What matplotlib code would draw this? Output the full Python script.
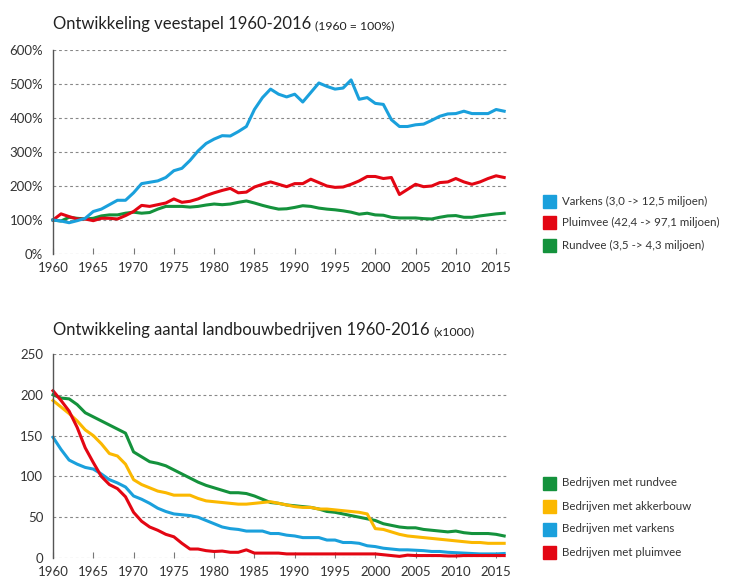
import matplotlib
matplotlib.use('Agg')
import matplotlib.pyplot as plt
from matplotlib.patches import Rectangle

plt.rcParams['font.family'] = ['Lato', 'DejaVu Sans']

years = list(range(1960, 2017))

# veestapel, index 1960 = 100%
varkens = [100, 97, 92, 98, 105, 125, 132, 145, 158, 158,
           180, 207, 211, 215, 225, 245, 252, 275, 303, 325,
           338, 348, 347, 360, 375, 425, 460, 485, 470, 462,
           470, 447, 475, 503, 493, 485, 488, 512, 455, 460,
           443, 440, 395, 375, 375, 380, 382, 393, 405, 412,
           413, 420, 413, 413, 413, 425, 420]
pluimvee = [100, 118, 110, 103, 103, 98, 105, 105, 103, 113,
            125, 143, 140, 145, 150, 162, 152, 155, 162, 172,
            180, 187, 193, 180, 182, 197, 205, 212, 205, 198,
            207, 207, 220, 210, 200, 196, 197, 205, 215, 228,
            228, 222, 225, 175, 190, 205, 198, 200, 210, 212,
            222, 212, 205, 212, 222, 230, 225]
rundvee = [100, 97, 108, 105, 103, 105, 112, 115, 115, 120,
           123, 120, 122, 132, 140, 140, 140, 138, 140, 144,
           147, 145, 147, 152, 156, 150, 143, 137, 132, 133,
           137, 142, 140, 135, 132, 130, 127, 123, 117, 120,
           115, 114, 108, 106, 106, 106, 104, 103, 108, 112,
           113, 108, 108, 112, 115, 118, 120]

# aantal bedrijven (x1000)
b_rundvee = [200, 196, 195, 188, 178, 173, 168, 163, 158, 153,
             130, 124, 118, 116, 113, 108, 103, 98, 93, 89,
             86, 83, 80, 80, 79, 76, 72, 68, 67, 65,
             64, 63, 62, 60, 57, 56, 54, 52, 50, 48,
             46, 42, 40, 38, 37, 37, 35, 34, 33, 32,
             33, 31, 30, 30, 30, 29, 27]
b_akkerbouw = [193, 185, 177, 168, 157, 150, 140, 128, 125, 115,
               96, 90, 86, 82, 80, 77, 77, 77, 73, 70,
               69, 68, 67, 66, 66, 67, 68, 69, 67, 65,
               63, 62, 62, 60, 60, 59, 58, 57, 56, 54,
               36, 35, 32, 29, 27, 26, 25, 24, 23, 22,
               21, 20, 19, 19, 18, 18, 18]
b_varkens = [148, 133, 120, 115, 111, 109, 103, 96, 92, 87,
             76, 72, 67, 61, 57, 54, 53, 52, 50, 46,
             42, 38, 36, 35, 33, 33, 33, 30, 30, 28,
             27, 25, 25, 25, 22, 22, 19, 19, 18, 15,
             14, 12, 11, 10, 10, 9.5, 9, 8, 8, 7,
             6.5, 6, 5.5, 5, 5, 5, 5.5]
b_pluimvee = [205, 193, 180, 160, 135, 117, 100, 90, 85, 75,
              56, 45, 38, 34, 29, 26, 18, 11, 11, 9,
              8, 8.5, 7, 7, 10, 6, 6, 6, 6, 5,
              5, 5, 5, 5, 5, 5, 5, 5, 5, 5,
              5, 4, 3, 2, 3.5, 3, 3, 3, 3, 2.5,
              2.5, 3, 3, 3, 3, 3, 3]

top_labels = ['Varkens (3,0 -> 12,5 miljoen)',
              'Pluimvee (42,4 -> 97,1 miljoen)',
              'Rundvee (3,5 -> 4,3 miljoen)']
bottom_labels = ['Bedrijven met rundvee', 'Bedrijven met akkerbouw',
                 'Bedrijven met varkens', 'Bedrijven met pluimvee']

BLUE = '#1aa0dc'
RED = '#e30613'
GREEN = '#14923c'
YELLOW = '#fbb800'
TXT = '#333333'

W, H = 731, 580
fig = plt.figure(figsize=(7.31, 5.80), dpi=100)


def style_axes(ax, yticks, ylabels):
    ax.set_xlim(1960, 2016.35)
    ax.set_ylim(yticks[0], yticks[-1])
    ax.set_yticks(yticks)
    ax.set_yticklabels(ylabels)
    ax.set_xticks(range(1960, 2016, 5))
    ax.tick_params(axis='y', length=0, pad=7, labelsize=9.5, labelcolor=TXT)
    ax.tick_params(axis='x', direction='in', length=4, width=0.8,
                   color='#777777', labelsize=9.5, labelcolor=TXT, pad=6)
    for s in ['top', 'right', 'bottom']:
        ax.spines[s].set_visible(False)
    ax.spines['left'].set_color('#555555')
    ax.spines['left'].set_linewidth(1.0)
    # dotted grid lines, also used as the base line
    for y in yticks:
        ax.axhline(y, color='#888888', lw=0.8, ls=(0, (2.5, 2.5)), zorder=0)


def title_with_note(x, y, title, note):
    t = fig.text(x / W, 1 - y / H, title, fontsize=12, color='#222222',
                 va='baseline', ha='left')
    fig.canvas.draw()
    bb = t.get_window_extent()
    fig.text((bb.x1 + 4) / W, 1 - y / H, note, fontsize=8.8,
             color='#222222', va='baseline', ha='left')


def legend_boxes(items, x0, ys):
    for (label, color), y in zip(items, ys):
        fig.patches.append(Rectangle((x0 / W, 1 - (y + 7) / H), 13 / W, 13 / H,
                                     color=color, transform=fig.transFigure))
        fig.text((x0 + 19) / W, 1 - y / H, label, fontsize=8.3, color=TXT,
                 va='center', ha='left')


# top chart
ax1 = fig.add_axes([53 / W, 1 - 254 / H, 454 / W, 204 / H])
style_axes(ax1, [0, 100, 200, 300, 400, 500, 600],
           ['0%', '100%', '200%', '300%', '400%', '500%', '600%'])
ax1.plot(years, rundvee, color=GREEN, lw=2.2, clip_on=False)
ax1.plot(years, pluimvee, color=RED, lw=2.2, clip_on=False)
ax1.plot(years, varkens, color=BLUE, lw=2.2, clip_on=False)

title_with_note(53, 29, 'Ontwikkeling veestapel 1960-2016', '(1960 = 100%)')
legend_boxes(list(zip(top_labels, [BLUE, RED, GREEN])), 543, [201, 222, 245])

# bottom chart
ax2 = fig.add_axes([53 / W, 1 - 558 / H, 454 / W, 204 / H])
style_axes(ax2, [0, 50, 100, 150, 200, 250],
           ['0', '50', '100', '150', '200', '250'])
ax2.plot(years, b_rundvee, color=GREEN, lw=2.2, clip_on=False)
ax2.plot(years, b_akkerbouw, color=YELLOW, lw=2.2, clip_on=False)
ax2.plot(years, b_varkens, color=BLUE, lw=2.2, clip_on=False)
ax2.plot(years, b_pluimvee, color=RED, lw=2.2, clip_on=False)

title_with_note(53, 335, 'Ontwikkeling aantal landbouwbedrijven 1960-2016',
                '(x1000)')
legend_boxes(list(zip(bottom_labels, [GREEN, YELLOW, BLUE, RED])), 543,
             [483, 506, 529, 552])

fig.savefig('out.png', dpi=100, facecolor='white')
